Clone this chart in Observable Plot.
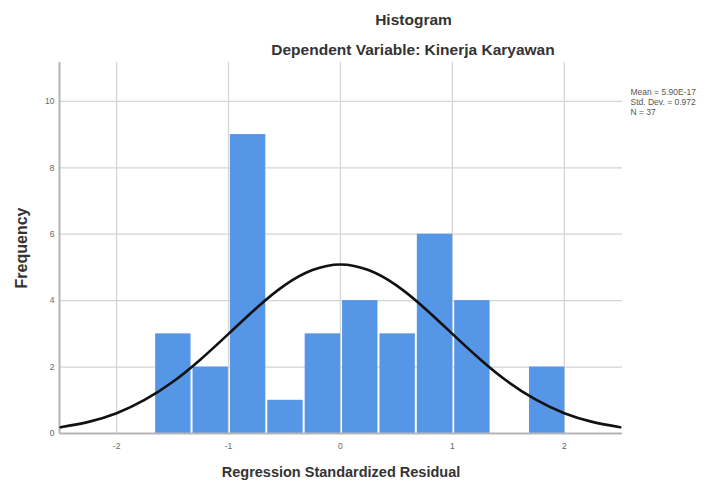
<!DOCTYPE html>
<html><head><meta charset="utf-8">
<script src="https://cdn.jsdelivr.net/npm/d3@7"></script>
<script src="https://cdn.jsdelivr.net/npm/@observablehq/plot@0.6"></script>
<style>
body{margin:0;background:#fff;}
#wrap{width:712px;height:482px;}
</style></head><body><div id="wrap"></div>
<script>
// Histogram bins (edges) and frequencies
const binEdges = [-1.66, -1.326, -0.992, -0.658, -0.324, 0.01, 0.344, 0.678, 1.012, 1.346, 1.68, 2.014];
const counts = [3, 2, 9, 1, 3, 4, 3, 6, 4, 0, 2];
// Normal curve points
const curveX = [-2.5, -2.25, -2, -1.75, -1.5, -1.25, -1, -0.75, -0.5, -0.25, 0, 0.25, 0.5, 0.75, 1, 1.25, 1.5, 1.75, 2, 2.25, 2.5];
const curveY = [0.19, 0.35, 0.61, 1.01, 1.55, 2.23, 3.0, 3.78, 4.46, 4.92, 5.09, 4.92, 4.46, 3.78, 3.0, 2.23, 1.55, 1.01, 0.61, 0.35, 0.19];
const xTicks = [-2, -1, 0, 1, 2];
const yTicks = [0, 2, 4, 6, 8, 10];
const xDomain = [-2.51, 2.52];
const yDomain = [0, 11.17];
const titleText = "Histogram";
const subtitleText = "Dependent Variable: Kinerja Karyawan";
const statsLines = ["Mean = 5.90E-17", "Std. Dev. = 0.972", "N = 37"];
const xLabel = "Regression Standardized Residual";
const yLabel = "Frequency";

const bars = counts.map((c, i) => ({x1: binEdges[i], x2: binEdges[i + 1], y: c})).filter(d => d.y > 0);
const curve = curveX.map((x, i) => ({x, y: curveY[i]}));

const chart = Plot.plot({
  width: 712, height: 482,
  marginLeft: 59, marginRight: 90, marginTop: 62, marginBottom: 49,
  style: {fontFamily: "'Liberation Sans', Arial, sans-serif", background: "#fff"},
  x: {domain: xDomain},
  y: {domain: yDomain},
  marks: [
    Plot.gridY(yTicks.filter(d => d > 0), {stroke: "#d4d4d4", strokeOpacity: 1, strokeWidth: 1.2}),
    Plot.gridX(xTicks, {stroke: "#d4d4d4", strokeOpacity: 1, strokeWidth: 1.2}),
    Plot.rectY(bars, {x1: "x1", x2: "x2", y: "y", fill: "#5596e6", insetLeft: 1, insetRight: 1}),
    Plot.ruleY([yDomain[0]], {stroke: "#b5b5b5", strokeWidth: 2}),
    Plot.ruleX([xDomain[0]], {stroke: "#b5b5b5", strokeWidth: 2}),
    Plot.line(curve, {x: "x", y: "y", curve: "natural", stroke: "#111", strokeWidth: 2.6}),
    Plot.axisX(xTicks, {tickSize: 0, tickPadding: 9, fontSize: 8.5, fill: "#666", label: null, tickFormat: d => String(d)}),
    Plot.axisY(yTicks, {tickSize: 0, tickPadding: 5, fontSize: 8.5, fill: "#666", label: null, tickFormat: d => String(d)}),
    Plot.text([yLabel], {frameAnchor: "left", dx: -38, rotate: -90, textAnchor: "middle", lineAnchor: "middle", fontSize: 16, fontWeight: "bold", fill: "#333"}),
    Plot.text([xLabel], {frameAnchor: "bottom", dy: 39, textAnchor: "middle", lineAnchor: "middle", fontSize: 14.5, fontWeight: "bold", fill: "#333"}),
    Plot.text([titleText], {frameAnchor: "top", dx: 72.5, dy: -42, textAnchor: "middle", lineAnchor: "middle", fontSize: 15.5, fill: "#333", fontWeight: "bold"}),
    Plot.text([subtitleText], {frameAnchor: "top", dx: 72, dy: -12, textAnchor: "middle", lineAnchor: "middle", fontSize: 15.5, fill: "#333", fontWeight: "bold"}),
    Plot.text([statsLines.join("\n")], {frameAnchor: "top-right", dx: 8, dy: 39.5, textAnchor: "start", lineAnchor: "middle", fontSize: 8.5, lineHeight: 1.2, fill: "#555"})
  ]
});
document.getElementById("wrap").appendChild(chart);
</script>
</body></html>
